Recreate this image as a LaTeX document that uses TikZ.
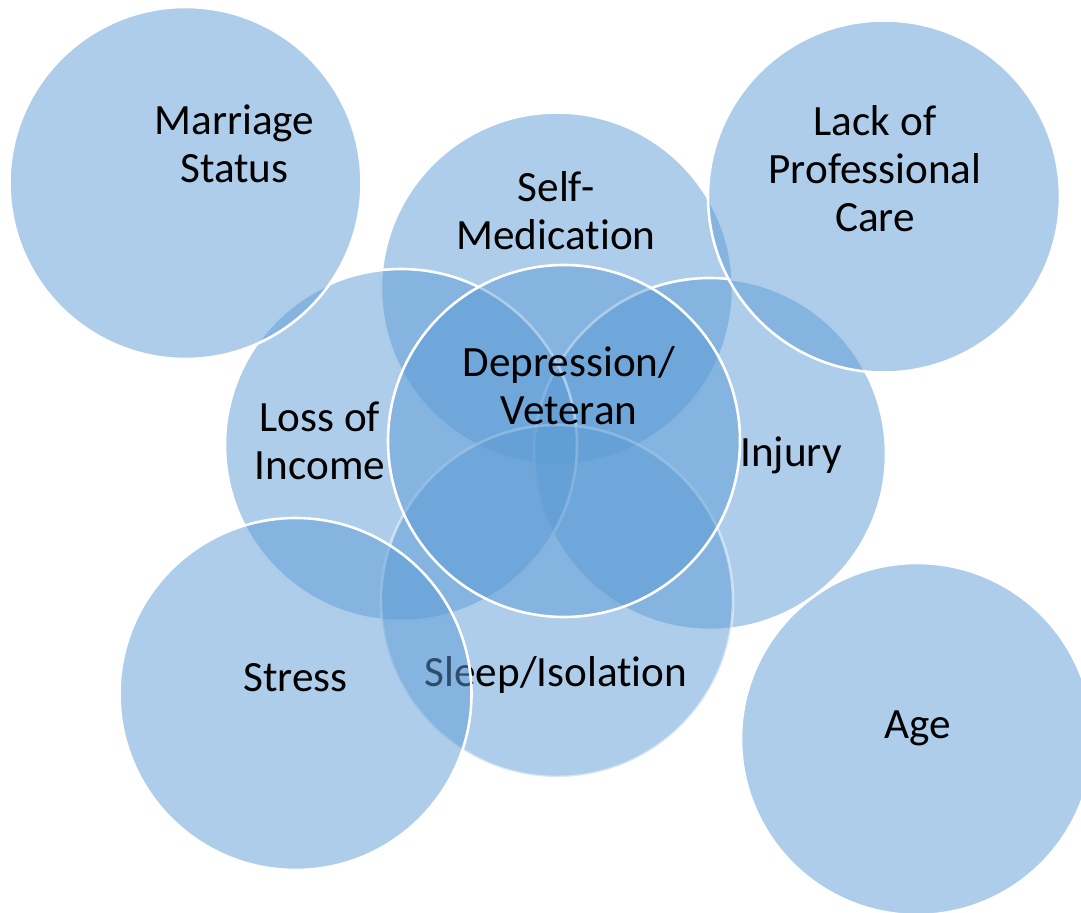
\documentclass[tikz,border=0pt]{standalone}
\usepackage{fontspec}
\setmainfont{Carlito}[Ligatures=NoCommon]
\definecolor{cfill}{HTML}{5B9BD5}
\begin{document}
\begin{tikzpicture}[x=0.5pt,y=-0.5pt,
  circ/.style={circle,minimum size=176pt,inner sep=0pt,fill=cfill,fill opacity=0.5,draw=white,line width=1.3pt},
  faint/.style={draw opacity=0.5},
  lbl/.style={align=center,font=\fontsize{21.6}{24}\selectfont,text=black,inner sep=0pt,anchor=base}]
\useasboundingbox (0,0) rectangle (1081,913);
% inner ring
\node[circ] (csm) at (557,288.5) {};
\node[lbl] (tsm) at (556,250) {Self-\\Medication};
\node[circ] (cin) at (710,454) {};
\node[lbl] (tin) at (791,466.7) {Injury};
\node[circ] (cli) at (401,445) {};
\node[lbl] (tli) at (320,480) {Loss of\\Income};
\node[circ,faint] (csi) at (557,601) {};
\node[lbl] (tsi) at (556,686.7) {Sleep/Isolation};
% outer circles
\node[circ] (cms) at (185.5,183) {};
\node[lbl] (tms) at (234.5,183) {Marriage\\Status};
\node[circ] (clp) at (884,196.5) {};
\node[lbl] (tlp) at (875,232) {Lack of\\Professional\\Care};
\node[circ] (cst) at (295.5,694) {};
\node[lbl] (tst) at (295.5,691.7) {Stress};
\node[circ] (cag) at (917,739) {};
\node[lbl] (tag) at (918,738) {Age};
% centre
\node[circ] (cdv) at (564,441) {};
\node[lbl] (tdv) at (569,425) {Depression/\\Veteran};
\end{tikzpicture}
\end{document}
